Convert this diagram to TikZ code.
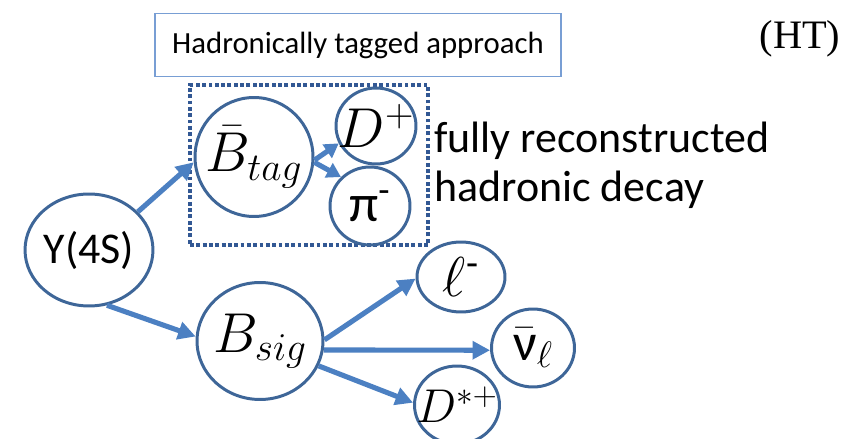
\documentclass[tikz,border=0pt]{standalone}
\usepackage{fix-cm}
\usepackage{fontspec}
\setmainfont{Carlito}
\newfontfamily\serifhead{Liberation Serif}
\usepackage{tikz}
\usetikzlibrary{shapes.geometric, arrows.meta}

\definecolor{ringblue}{RGB}{62,102,152}
\definecolor{arrowblue}{RGB}{76,128,194}
\definecolor{titleblue}{RGB}{120,158,212}
\definecolor{frameblue}{RGB}{50,88,148}

\begin{document}
\begin{tikzpicture}[
  x=0.02cm, y=-0.02cm,
  font=\fontsize{25}{30}\selectfont,
  particle/.style={ellipse, draw=ringblue, line width=1.7pt, inner sep=0pt},
  bigmath/.style={label={[font=\fontsize{32}{36}\selectfont]center:#1}},
  bigtext/.style={label={[font=\fontsize{30}{34}\selectfont]center:#1}},
  decay/.style={-{Triangle[length=10pt, width=10pt]}, line width=2.9pt, draw=arrowblue},
  tagframe/.style={rectangle, draw=frameblue, line width=2.2pt, dash pattern=on 2.2pt off 1.4pt},
]
\useasboundingbox (0,0) rectangle (843,439);

\node[draw=titleblue, line width=0.8pt, minimum width=8.12cm, minimum height=1.26cm,
  font=\fontsize{17.5}{21}\selectfont] (title) at (358,45) {Hadronically tagged approach};
\node[font=\serifhead\fontsize{23}{27}\selectfont] (ht) at (800,39) {(HT)};

\node[tagframe, minimum width=4.76cm, minimum height=3.2cm] (frame) at (309,165) {};

\node[particle, minimum width=2.52cm, minimum height=2.24cm] (ups) at (89,250) {Y(4S)};
\node[particle, bigmath={$\bar{B}_{tag}$}, minimum width=2.36cm, minimum height=2.38cm] (btag) at (254,157) {};
\node[particle, bigmath={$D^{+}$}, minimum width=1.6cm, minimum height=1.52cm] (dplus) at (376,126) {};
\node[particle, bigtext={π\textsuperscript{-}}, minimum width=1.6cm, minimum height=1.56cm] (piminus) at (370,206) {};
\node[particle, bigmath={$B_{sig}$}, minimum width=2.52cm, minimum height=2.34cm] (bsig) at (260,341) {};
\node[particle, bigmath={$\ell$\textsuperscript{-}}, minimum width=1.76cm, minimum height=1.4cm] (lep) at (461,277) {};
\node[particle, bigtext={$\bar{\mbox{ν}}_{\ell}$}, minimum width=1.66cm, minimum height=1.56cm] (nubar) at (533,348) {};
\node[particle, label={[font=\fontsize{27}{31}\selectfont]center:$D^{*+}$}, minimum width=1.7cm, minimum height=1.56cm] (dstar) at (457,405) {};

\node[anchor=base west, inner sep=0pt] (fully) at (434,153) {fully reconstructed};
\node[anchor=base west, inner sep=0pt] (hadronic) at (434,202) {hadronic decay};

\draw[decay] (ups.38) -- (btag.185);
\draw[decay] (ups.-72) -- (bsig.176);
\draw[decay, -{Triangle[length=8pt, width=9pt]}] (btag.-3) -- (dplus.-155);
\draw[decay, -{Triangle[length=8pt, width=9pt]}] (btag.-5) -- (piminus.135);
\foreach \a/\b/\c in {1/lep/182, -8/nubar/183, -23/dstar/177}
  \draw[decay] (bsig.\a) -- (\b.\c);
\end{tikzpicture}
\end{document}
